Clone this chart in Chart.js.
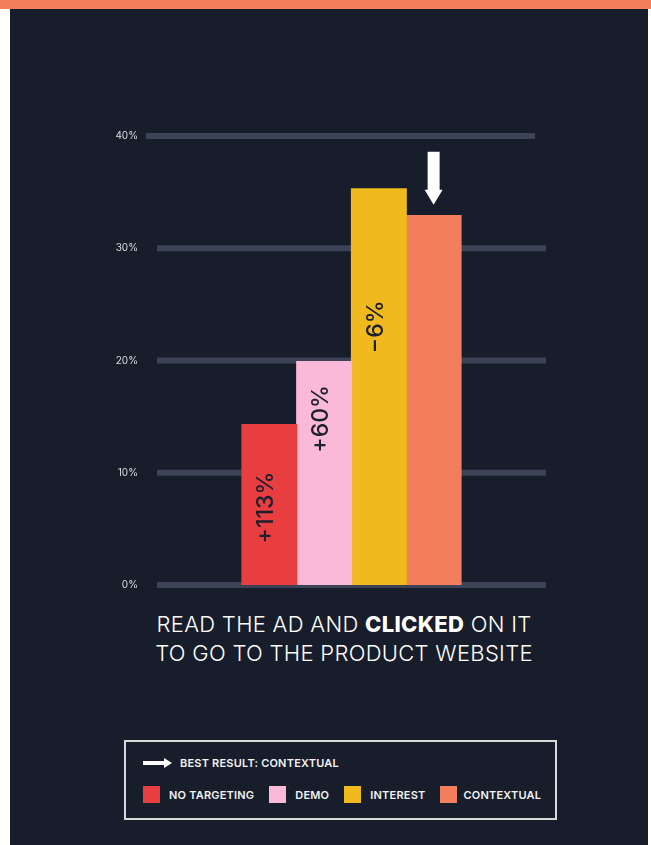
<!DOCTYPE html>
<html>
<head>
<meta charset="utf-8">
<script src="https://cdn.jsdelivr.net/npm/chart.js@4.4.1/dist/chart.umd.min.js"></script>
<style>
  html, body { margin: 0; padding: 0; background: #fff; }
  body { width: 651px; height: 845px; position: relative; overflow: hidden; font-family: Inter, "Open Sans", sans-serif; }
  .topbar { position: absolute; left: 0; top: 0; width: 651px; height: 9px; background: #f47f5c; }
  .panel { position: absolute; left: 10px; top: 9px; width: 638px; height: 836px; background: #181d2c; }
  #wrap { position: absolute; left: 0; top: 0; width: 651px; height: 610px; }
  #clickChart { display: block; }
  .title { position: absolute; left: 94px; top: 610px; width: 500px; text-align: center; color: #fff; font-size: 22px; line-height: 29px; font-weight: 300; letter-spacing: 0.3px; }
  .title b { font-weight: 800; }
  .legend { position: absolute; left: 124px; top: 740px; width: 429px; height: 76px; border: 2px solid #d9d9d9; color: #f2f2f2; font-size: 11px; font-weight: 600; letter-spacing: 0.2px; white-space: nowrap; }
  .best { position: absolute; left: 17px; top: 14px; display: flex; align-items: center; }
  .items { position: absolute; left: 17px; top: 44px; display: flex; align-items: center; }
  .item { display: flex; align-items: center; margin-right: 15px; }
  .item:last-child span { margin-left: -3px; }
  .sw { width: 17px; height: 17px; margin-right: 9px; }
</style>
</head>
<body>
<div class="topbar"></div>
<div class="panel"></div>
<div id="wrap"><canvas id="clickChart" width="651" height="610"></canvas></div>
<div class="title">READ THE AD AND <b>CLICKED</b> ON IT<br>TO GO TO THE PRODUCT WEBSITE</div>
<div class="legend">
  <div class="best">
    <svg width="29" height="10" style="margin-right:8px"><path d="M0 3 H21 V0 L29 5 L21 10 V7 H0 Z" fill="#fff"/></svg>
    <span>BEST RESULT: CONTEXTUAL</span>
  </div>
  <div class="items" id="legendItems"></div>
</div>
<script>
// Данные
const categories = ['NO TARGETING', 'DEMO', 'INTEREST', 'CONTEXTUAL'];
const clickRates = [14.3, 19.9, 35.3, 32.9];           // % прочитавших и кликнувших
const liftLabels = ['+113%', '+60%', '\u22126%', ''];   // подписи внутри столбцов
const liftLabelAt = [6.9, 14.8, 23.0, 0];              // где стоит подпись (в % оси)
const yTicks = [0, 10, 20, 30, 40];
const colors = ['#e83e3f', '#fbb9d9', '#f0b91d', '#f27e5d'];
const bestIndex = 3;

// Легенда
const legendBox = document.getElementById('legendItems');
categories.forEach((name, i) => {
  const item = document.createElement('div');
  item.className = 'item';
  item.innerHTML = '<div class="sw" style="background:' + colors[i] + '"></div><span>' + name + '</span>';
  legendBox.appendChild(item);
});

// Сетка (толстые линии), верхняя линия чуть сдвинута влево
const gridPlugin = {
  id: 'thickGrid',
  beforeDatasetsDraw(chart) {
    const { ctx, chartArea, scales } = chart;
    ctx.save();
    ctx.fillStyle = '#3c4357';
    yTicks.forEach(v => {
      const y = scales.y.getPixelForValue(v);
      const shift = v === yTicks[yTicks.length - 1] ? -11 : 0;
      ctx.fillRect(chartArea.left + shift, y - 3, chartArea.right - chartArea.left, 6);
    });
    ctx.restore();
  }
};

// Подписи внутри столбцов и стрелка над лучшим результатом
const labelPlugin = {
  id: 'liftLabels',
  afterDatasetsDraw(chart) {
    const { ctx, scales } = chart;
    ctx.save();
    ctx.fillStyle = '#1b2030';
    ctx.font = '500 23px Inter, sans-serif';
    ctx.textAlign = 'center';
    ctx.textBaseline = 'middle';
    liftLabels.forEach((txt, i) => {
      if (!txt) return;
      const bar = chart.getDatasetMeta(i).data[0];
      ctx.save();
      ctx.translate(bar.x - 3, scales.y.getPixelForValue(liftLabelAt[i]));
      ctx.rotate(-Math.PI / 2);
      ctx.fillText(txt, 0, 0);
      ctx.restore();
    });
    // стрелка
    const best = chart.getDatasetMeta(bestIndex).data[0];
    const tip = best.y - 11;
    ctx.fillStyle = '#ffffff';
    ctx.beginPath();
    ctx.moveTo(best.x - 6, tip - 53);
    ctx.lineTo(best.x + 6, tip - 53);
    ctx.lineTo(best.x + 6, tip - 15);
    ctx.lineTo(best.x + 9, tip - 15);
    ctx.lineTo(best.x, tip);
    ctx.lineTo(best.x - 9, tip - 15);
    ctx.lineTo(best.x - 6, tip - 15);
    ctx.closePath();
    ctx.fill();
    ctx.restore();
  }
};

const ctx = document.getElementById('clickChart').getContext('2d');
const clickChart = new Chart(ctx, {
  type: 'bar',
  data: {
    labels: ['CLICKED'],
    datasets: categories.map((name, i) => ({
      label: name,
      data: [clickRates[i]],
      backgroundColor: colors[i],
      borderWidth: 0,
      inflateAmount: 0.6
    }))
  },
  options: {
    responsive: false,
    animation: false,
    devicePixelRatio: 1,
    datasets: { bar: { barPercentage: 1, categoryPercentage: 0.563 } },
    layout: { padding: { top: 136, right: 105, bottom: 6, left: 0 } },
    plugins: { legend: { display: false }, tooltip: { enabled: false } },
    scales: {
      x: { display: false },
      y: {
        min: 0,
        max: 40,
        afterFit: s => { s.width = 157; },
        afterBuildTicks: s => { s.ticks = yTicks.map(v => ({ value: v })); },
        grid: { display: false, drawTicks: false },
        border: { display: false },
        ticks: {
          padding: 19,
          color: '#dcdcdc',
          font: { family: 'Inter', size: 10 },
          callback: v => v + '%'
        }
      }
    }
  },
  plugins: [gridPlugin, labelPlugin]
});
</script>
</body>
</html>
